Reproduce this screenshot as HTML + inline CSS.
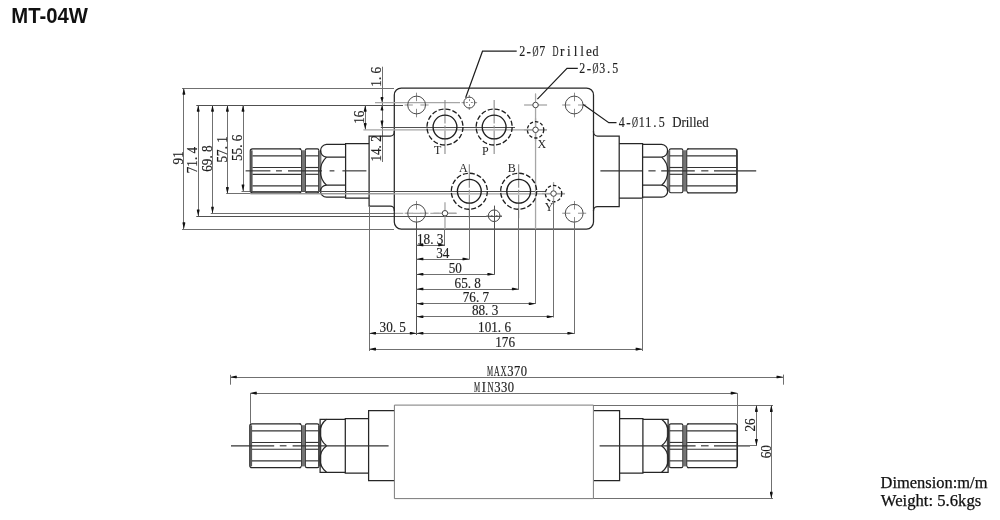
<!DOCTYPE html>
<html><head><meta charset="utf-8"><style>
html,body{margin:0;padding:0;background:#fff;width:1000px;height:520px;overflow:hidden}
svg{position:absolute;left:0;top:0;will-change:transform}
</style></head><body>
<svg width="1000" height="520" viewBox="0 0 1000 520">
<rect width="1000" height="520" fill="#fff"/>
<text x="11.3" y="22.7" font-family="Liberation Sans" font-weight="bold" font-size="21.2" fill="#111" textLength="76.6" lengthAdjust="spacingAndGlyphs">MT-04W</text>
<line x1="182" y1="88.5" x2="394" y2="88.5" stroke="#707070" stroke-width="1" fill="none"/>
<line x1="196.3" y1="105.5" x2="403" y2="105.5" stroke="#505050" stroke-width="1" fill="none"/>
<line x1="182" y1="229.5" x2="394" y2="229.5" stroke="#707070" stroke-width="1" fill="none"/>
<line x1="196.3" y1="216.5" x2="502" y2="216.5" stroke="#505050" stroke-width="1" fill="none"/>
<line x1="210.8" y1="213.5" x2="394.3" y2="213.5" stroke="#707070" stroke-width="1" fill="none"/>
<line x1="394.3" y1="213.4" x2="456.5" y2="213.4" stroke="#ababab" stroke-width="1.2" stroke-dasharray="9,3,3,3"/>
<line x1="226.2" y1="193.5" x2="250.3" y2="193.5" stroke="#707070" stroke-width="1" fill="none"/>
<line x1="250.3" y1="193.5" x2="394" y2="193.5" stroke="#707070" stroke-width="1" fill="none"/>
<line x1="241.5" y1="191.5" x2="250.3" y2="191.5" stroke="#707070" stroke-width="1" fill="none"/>
<line x1="250.3" y1="191.5" x2="394" y2="191.5" stroke="#707070" stroke-width="1" fill="none"/>
<line x1="183.5" y1="88" x2="183.5" y2="229.1" stroke="#707070" stroke-width="1" fill="none"/>
<path d="M183.9,88 L185.2,93.44 L185.2,94.8 L182.6,94.8 L182.6,93.44 Z" fill="#111"/>
<path d="M183.9,229.1 L182.6,223.66 L182.6,222.3 L185.2,222.3 L185.2,223.66 Z" fill="#111"/>
<line x1="198.5" y1="105" x2="198.5" y2="216.2" stroke="#707070" stroke-width="1" fill="none"/>
<path d="M198.2,105 L199.5,110.44 L199.5,111.8 L196.9,111.8 L196.9,110.44 Z" fill="#111"/>
<path d="M198.2,216.2 L196.9,210.76 L196.9,209.4 L199.5,209.4 L199.5,210.76 Z" fill="#111"/>
<line x1="212.5" y1="105" x2="212.5" y2="213.5" stroke="#707070" stroke-width="1" fill="none"/>
<path d="M212.5,105 L213.8,110.44 L213.8,111.8 L211.2,111.8 L211.2,110.44 Z" fill="#111"/>
<path d="M212.5,213.5 L211.2,208.06 L211.2,206.7 L213.8,206.7 L213.8,208.06 Z" fill="#111"/>
<line x1="227.5" y1="105" x2="227.5" y2="193.85" stroke="#707070" stroke-width="1" fill="none"/>
<path d="M227.4,105 L228.7,110.44 L228.7,111.8 L226.1,111.8 L226.1,110.44 Z" fill="#111"/>
<path d="M227.4,193.85 L226.1,188.41 L226.1,187.05 L228.7,187.05 L228.7,188.41 Z" fill="#111"/>
<line x1="243.5" y1="105" x2="243.5" y2="191.25" stroke="#707070" stroke-width="1" fill="none"/>
<path d="M243,105 L244.3,110.44 L244.3,111.8 L241.7,111.8 L241.7,110.44 Z" fill="#111"/>
<path d="M243,191.25 L241.7,185.81 L241.7,184.45 L244.3,184.45 L244.3,185.81 Z" fill="#111"/>
<line x1="382.5" y1="66.7" x2="382.5" y2="162" stroke="#707070" stroke-width="1" fill="none"/>
<path d="M382,102.6 L380.7,98.2 L380.7,97.1 L383.3,97.1 L383.3,98.2 Z" fill="#111"/>
<path d="M382,105 L383.3,109.4 L383.3,110.5 L380.7,110.5 L380.7,109.4 Z" fill="#111"/>
<path d="M382,127.3 L380.7,121.86 L380.7,120.5 L383.3,120.5 L383.3,121.86 Z" fill="#111"/>
<line x1="365.5" y1="105" x2="365.5" y2="129.8" stroke="#707070" stroke-width="1" fill="none"/>
<path d="M365.2,105 L366.5,110.44 L366.5,111.8 L363.9,111.8 L363.9,110.44 Z" fill="#111"/>
<path d="M365.2,129.8 L363.9,124.36 L363.9,123 L366.5,123 L366.5,124.36 Z" fill="#111"/>
<path d="M394.3,95 A7,7 0 0 1 401.3,88 L586.5,88 A7,7 0 0 1 593.5,95 L593.5,132.1 A4,4 0 0 0 597.5,136.1 L619.2,136.1 L619.2,206.5 L597.5,206.5 A4,4 0 0 0 593.5,210.5 L593.5,222 A7,7 0 0 1 586.5,229 L401.3,229 A7,7 0 0 1 394.3,222 L394.3,210 A4,4 0 0 0 390.3,206 L369.1,206 L369.1,136.1 L390.3,136.1 A4,4 0 0 0 394.3,132.1 Z" stroke="#262626" stroke-width="1.25" fill="none"/>
<line x1="394.3" y1="131" x2="394.3" y2="211" stroke="#262626" stroke-width="1.25"/>
<line x1="593.5" y1="131" x2="593.5" y2="211" stroke="#262626" stroke-width="1.25"/>
<g >
<path d="M300.8,148.85 L252.5,148.85 Q250.3,148.85 250.3,151.05 L250.3,190.55 Q250.3,192.75 252.5,192.75 L300.8,192.75" stroke="#262626" stroke-width="1.25" fill="none"/>
<rect x="250.3" y="150.35" width="2.3" height="41" fill="#5a5a5a"/>
<path d="M299.6,148.85 Q301.1,148.85 301.1,150.25 M299.6,192.75 Q301.1,192.75 301.1,191.35" stroke="#262626" stroke-width="1.2" fill="none"/>
<rect x="301" y="150.25" width="4.5" height="41.2" fill="#747474"/>
<line x1="301.5" y1="150.25" x2="301.5" y2="191.45" stroke="#3a3a3a" stroke-width="0.9"/>
<line x1="305.5" y1="150.25" x2="305.5" y2="191.45" stroke="#3a3a3a" stroke-width="0.9"/>
<path d="M305.4,150.25 Q305.4,148.85 306.8,148.85 L317.4,148.85 Q318.8,148.85 318.8,150.25 M305.4,191.35 Q305.4,192.75 306.8,192.75 L317.4,192.75 Q318.8,192.75 318.8,191.35" stroke="#262626" stroke-width="1.2" fill="none"/>
<line x1="252.5" y1="155.85" x2="301.1" y2="155.85" stroke="#333" stroke-width="1.15"/>
<line x1="305.4" y1="155.85" x2="318.8" y2="155.85" stroke="#333" stroke-width="1.15"/>
<line x1="252.5" y1="167.5" x2="301.1" y2="167.5" stroke="#333" stroke-width="1.15"/>
<line x1="305.4" y1="167.5" x2="318.8" y2="167.5" stroke="#333" stroke-width="1.15"/>
<line x1="252.5" y1="174.3" x2="301.1" y2="174.3" stroke="#333" stroke-width="1.15"/>
<line x1="305.4" y1="174.3" x2="318.8" y2="174.3" stroke="#333" stroke-width="1.15"/>
<line x1="252.5" y1="185.9" x2="301.1" y2="185.9" stroke="#333" stroke-width="1.15"/>
<line x1="305.4" y1="185.9" x2="318.8" y2="185.9" stroke="#333" stroke-width="1.15"/>
<rect x="318.8" y="150.35" width="2.6" height="41" fill="#747474"/>
<line x1="318.5" y1="150.25" x2="318.5" y2="191.35" stroke="#3a3a3a" stroke-width="0.9"/>
<path d="M369.1,143.65 L345.6,143.65 L345.6,198.05 L369.1,198.05" stroke="#262626" stroke-width="1.25" fill="none"/>
<path d="M345.6,144.4 L326.5,144.4 A6.39,6.39 0 0 0 326.5,157.15 L345.6,157.15" stroke="#262626" stroke-width="1.25" fill="none"/>
<path d="M326.5,157.15 A19.12,19.12 0 0 0 326.5,185.15 L345.6,185.15" stroke="#262626" stroke-width="1.25" fill="none"/>
<path d="M326.5,185.15 A6,6 0 0 0 326.5,197.15 L345.6,197.15" stroke="#262626" stroke-width="1.25" fill="none"/>
</g>
<g transform="translate(988.2,0) scale(-1,1)">
<path d="M300.8,148.85 L253.29999999999998,148.85 Q251.1,148.85 251.1,151.05 L251.1,190.55 Q251.1,192.75 253.29999999999998,192.75 L300.8,192.75" stroke="#262626" stroke-width="1.25" fill="none"/>
<line x1="251.4" y1="150.35" x2="251.4" y2="191.35" stroke="#222" stroke-width="1.1"/>
<path d="M299.6,148.85 Q301.1,148.85 301.1,150.25 M299.6,192.75 Q301.1,192.75 301.1,191.35" stroke="#262626" stroke-width="1.2" fill="none"/>
<rect x="301" y="150.25" width="4.5" height="41.2" fill="#747474"/>
<line x1="301.5" y1="150.25" x2="301.5" y2="191.45" stroke="#3a3a3a" stroke-width="0.9"/>
<line x1="305.5" y1="150.25" x2="305.5" y2="191.45" stroke="#3a3a3a" stroke-width="0.9"/>
<path d="M305.4,150.25 Q305.4,148.85 306.8,148.85 L317.4,148.85 Q318.8,148.85 318.8,150.25 M305.4,191.35 Q305.4,192.75 306.8,192.75 L317.4,192.75 Q318.8,192.75 318.8,191.35" stroke="#262626" stroke-width="1.2" fill="none"/>
<line x1="251.7" y1="155.85" x2="301.1" y2="155.85" stroke="#333" stroke-width="1.15"/>
<line x1="305.4" y1="155.85" x2="318.8" y2="155.85" stroke="#333" stroke-width="1.15"/>
<line x1="251.7" y1="167.5" x2="301.1" y2="167.5" stroke="#333" stroke-width="1.15"/>
<line x1="305.4" y1="167.5" x2="318.8" y2="167.5" stroke="#333" stroke-width="1.15"/>
<line x1="251.7" y1="174.3" x2="301.1" y2="174.3" stroke="#333" stroke-width="1.15"/>
<line x1="305.4" y1="174.3" x2="318.8" y2="174.3" stroke="#333" stroke-width="1.15"/>
<line x1="251.7" y1="185.9" x2="301.1" y2="185.9" stroke="#333" stroke-width="1.15"/>
<line x1="305.4" y1="185.9" x2="318.8" y2="185.9" stroke="#333" stroke-width="1.15"/>
<rect x="318.8" y="150.35" width="2.6" height="41" fill="#747474"/>
<line x1="318.5" y1="150.25" x2="318.5" y2="191.35" stroke="#3a3a3a" stroke-width="0.9"/>
<path d="M369.1,143.65 L345.6,143.65 L345.6,198.05 L369.1,198.05" stroke="#262626" stroke-width="1.25" fill="none"/>
<path d="M345.6,144.4 L326.5,144.4 A6.39,6.39 0 0 0 326.5,157.15 L345.6,157.15" stroke="#262626" stroke-width="1.25" fill="none"/>
<path d="M326.5,157.15 A19.12,19.12 0 0 0 326.5,185.15 L345.6,185.15" stroke="#262626" stroke-width="1.25" fill="none"/>
<path d="M326.5,185.15 A6,6 0 0 0 326.5,197.15 L345.6,197.15" stroke="#262626" stroke-width="1.25" fill="none"/>
</g>
<g >
<path d="M300.8,423.8 L252.0,423.8 Q249.8,423.8 249.8,426 L249.8,465.5 Q249.8,467.7 252.0,467.7 L300.8,467.7" stroke="#262626" stroke-width="1.25" fill="none"/>
<rect x="249.8" y="425.3" width="2.3" height="41" fill="#5a5a5a"/>
<path d="M299.6,423.8 Q301.1,423.8 301.1,425.2 M299.6,467.7 Q301.1,467.7 301.1,466.3" stroke="#262626" stroke-width="1.2" fill="none"/>
<rect x="301" y="425.2" width="4.5" height="41.2" fill="#747474"/>
<line x1="301.5" y1="425.2" x2="301.5" y2="466.4" stroke="#3a3a3a" stroke-width="0.9"/>
<line x1="305.5" y1="425.2" x2="305.5" y2="466.4" stroke="#3a3a3a" stroke-width="0.9"/>
<path d="M305.4,425.2 Q305.4,423.8 306.8,423.8 L317.4,423.8 Q318.8,423.8 318.8,425.2 M305.4,466.3 Q305.4,467.7 306.8,467.7 L317.4,467.7 Q318.8,467.7 318.8,466.3" stroke="#262626" stroke-width="1.2" fill="none"/>
<line x1="252" y1="430.8" x2="301.1" y2="430.8" stroke="#333" stroke-width="1.15"/>
<line x1="305.4" y1="430.8" x2="318.8" y2="430.8" stroke="#333" stroke-width="1.15"/>
<line x1="252" y1="442.45" x2="301.1" y2="442.45" stroke="#333" stroke-width="1.15"/>
<line x1="305.4" y1="442.45" x2="318.8" y2="442.45" stroke="#333" stroke-width="1.15"/>
<line x1="252" y1="449.25" x2="301.1" y2="449.25" stroke="#333" stroke-width="1.15"/>
<line x1="305.4" y1="449.25" x2="318.8" y2="449.25" stroke="#333" stroke-width="1.15"/>
<line x1="252" y1="460.85" x2="301.1" y2="460.85" stroke="#333" stroke-width="1.15"/>
<line x1="305.4" y1="460.85" x2="318.8" y2="460.85" stroke="#333" stroke-width="1.15"/>
<rect x="318.8" y="425.3" width="2.6" height="41" fill="#747474"/>
<line x1="318.5" y1="425.2" x2="318.5" y2="466.3" stroke="#3a3a3a" stroke-width="0.9"/>
<path d="M394.4,410.7 L368.6,410.7 L368.6,480.7 L394.4,480.7" stroke="#262626" stroke-width="1.25" fill="none"/>
<path d="M368.6,418.5 L345.3,418.5 L345.3,473.1 L368.6,473.1" stroke="#262626" stroke-width="1.25" fill="none"/>
<path d="M345.3,419.3 L320.1,419.3 L320.1,472.3 L345.3,472.3" stroke="#262626" stroke-width="1.25" fill="none"/>
<path d="M326.6,419.3 A16.6,16.6 0 0 0 326.6,445.8 " stroke="#262626" stroke-width="1.25" fill="none"/>
<path d="M326.6,445.8 A16.6,16.6 0 0 0 326.6,472.3" stroke="#262626" stroke-width="1.25" fill="none"/>
</g>
<g transform="translate(988.2,0) scale(-1,1)">
<path d="M300.8,423.8 L253.0,423.8 Q250.8,423.8 250.8,426 L250.8,465.5 Q250.8,467.7 253.0,467.7 L300.8,467.7" stroke="#262626" stroke-width="1.25" fill="none"/>
<line x1="251.1" y1="425.3" x2="251.1" y2="466.3" stroke="#222" stroke-width="1.1"/>
<path d="M299.6,423.8 Q301.1,423.8 301.1,425.2 M299.6,467.7 Q301.1,467.7 301.1,466.3" stroke="#262626" stroke-width="1.2" fill="none"/>
<rect x="301" y="425.2" width="4.5" height="41.2" fill="#747474"/>
<line x1="301.5" y1="425.2" x2="301.5" y2="466.4" stroke="#3a3a3a" stroke-width="0.9"/>
<line x1="305.5" y1="425.2" x2="305.5" y2="466.4" stroke="#3a3a3a" stroke-width="0.9"/>
<path d="M305.4,425.2 Q305.4,423.8 306.8,423.8 L317.4,423.8 Q318.8,423.8 318.8,425.2 M305.4,466.3 Q305.4,467.7 306.8,467.7 L317.4,467.7 Q318.8,467.7 318.8,466.3" stroke="#262626" stroke-width="1.2" fill="none"/>
<line x1="251.4" y1="430.8" x2="301.1" y2="430.8" stroke="#333" stroke-width="1.15"/>
<line x1="305.4" y1="430.8" x2="318.8" y2="430.8" stroke="#333" stroke-width="1.15"/>
<line x1="251.4" y1="442.45" x2="301.1" y2="442.45" stroke="#333" stroke-width="1.15"/>
<line x1="305.4" y1="442.45" x2="318.8" y2="442.45" stroke="#333" stroke-width="1.15"/>
<line x1="251.4" y1="449.25" x2="301.1" y2="449.25" stroke="#333" stroke-width="1.15"/>
<line x1="305.4" y1="449.25" x2="318.8" y2="449.25" stroke="#333" stroke-width="1.15"/>
<line x1="251.4" y1="460.85" x2="301.1" y2="460.85" stroke="#333" stroke-width="1.15"/>
<line x1="305.4" y1="460.85" x2="318.8" y2="460.85" stroke="#333" stroke-width="1.15"/>
<rect x="318.8" y="425.3" width="2.6" height="41" fill="#747474"/>
<line x1="318.5" y1="425.2" x2="318.5" y2="466.3" stroke="#3a3a3a" stroke-width="0.9"/>
<path d="M394.4,410.7 L368.6,410.7 L368.6,480.7 L394.4,480.7" stroke="#262626" stroke-width="1.25" fill="none"/>
<path d="M368.6,418.5 L345.3,418.5 L345.3,473.1 L368.6,473.1" stroke="#262626" stroke-width="1.25" fill="none"/>
<path d="M345.3,419.3 L320.1,419.3 L320.1,472.3 L345.3,472.3" stroke="#262626" stroke-width="1.25" fill="none"/>
<path d="M326.6,419.3 A16.6,16.6 0 0 0 326.6,445.8 " stroke="#262626" stroke-width="1.25" fill="none"/>
<path d="M326.6,445.8 A16.6,16.6 0 0 0 326.6,472.3" stroke="#262626" stroke-width="1.25" fill="none"/>
</g>
<line x1="245.6" y1="170.85" x2="270.4" y2="170.85" stroke="#333" stroke-width="1.15" fill="none"/>
<line x1="276" y1="170.85" x2="281.9" y2="170.85" stroke="#333" stroke-width="1.15" fill="none"/>
<line x1="288" y1="170.85" x2="322" y2="170.85" stroke="#333" stroke-width="1.15" fill="none"/>
<line x1="329.6" y1="170.85" x2="334.4" y2="170.85" stroke="#333" stroke-width="1.15" fill="none"/>
<line x1="342.4" y1="170.85" x2="366.4" y2="170.85" stroke="#333" stroke-width="1.15" fill="none"/>
<line x1="600.4" y1="170.85" x2="642" y2="170.85" stroke="#333" stroke-width="1.15" fill="none"/>
<line x1="648.4" y1="170.85" x2="655.6" y2="170.85" stroke="#333" stroke-width="1.15" fill="none"/>
<line x1="661.2" y1="170.85" x2="694.8" y2="170.85" stroke="#333" stroke-width="1.15" fill="none"/>
<line x1="701.2" y1="170.85" x2="708.4" y2="170.85" stroke="#333" stroke-width="1.15" fill="none"/>
<line x1="714" y1="170.85" x2="756.2" y2="170.85" stroke="#333" stroke-width="1.15" fill="none"/>
<line x1="231" y1="445.8" x2="274.2" y2="445.8" stroke="#333" stroke-width="1.15" fill="none"/>
<line x1="279.8" y1="445.8" x2="286.5" y2="445.8" stroke="#333" stroke-width="1.15" fill="none"/>
<line x1="292.6" y1="445.8" x2="388.6" y2="445.8" stroke="#333" stroke-width="1.15" fill="none"/>
<line x1="599.6" y1="445.8" x2="695.6" y2="445.8" stroke="#333" stroke-width="1.15" fill="none"/>
<line x1="701" y1="445.8" x2="708.6" y2="445.8" stroke="#333" stroke-width="1.15" fill="none"/>
<line x1="714" y1="445.8" x2="750" y2="445.8" stroke="#333" stroke-width="1.15" fill="none"/>
<line x1="375" y1="102.6" x2="460" y2="102.6" stroke="#a6a6a6" stroke-width="1.3" fill="none"/>
<line x1="363.4" y1="129.8" x2="547" y2="129.8" stroke="#a6a6a6" stroke-width="1.3" fill="none"/>
<line x1="380.8" y1="127.5" x2="515" y2="127.5" stroke="#505050" stroke-width="1" fill="none"/>
<line x1="250.3" y1="191.5" x2="545" y2="191.5" stroke="#505050" stroke-width="1" fill="none"/>
<line x1="250.3" y1="193.85" x2="565" y2="193.85" stroke="#a6a6a6" stroke-width="1.3" fill="none"/>
<line x1="412.8" y1="105" x2="404.6" y2="105" stroke="#a4a4a4" stroke-width="1.2"/>
<line x1="416.5" y1="101.2" x2="416.5" y2="92.7" stroke="#8c8c8c" stroke-width="1"/>
<line x1="420.4" y1="105" x2="428.6" y2="105" stroke="#a4a4a4" stroke-width="1.2"/>
<line x1="416.5" y1="108.8" x2="416.5" y2="117.3" stroke="#8c8c8c" stroke-width="1"/>
<circle cx="416.6" cy="105" r="8.9" stroke="#4a4a4a" stroke-width="1" fill="none"/>
<line x1="570.38" y1="105" x2="562.18" y2="105" stroke="#a4a4a4" stroke-width="1.2"/>
<line x1="574.5" y1="101.2" x2="574.5" y2="92.7" stroke="#8c8c8c" stroke-width="1"/>
<line x1="577.98" y1="105" x2="586.18" y2="105" stroke="#a4a4a4" stroke-width="1.2"/>
<line x1="574.5" y1="108.8" x2="574.5" y2="117.3" stroke="#8c8c8c" stroke-width="1"/>
<circle cx="574.18" cy="105" r="8.9" stroke="#4a4a4a" stroke-width="1" fill="none"/>
<line x1="412.8" y1="213.26" x2="404.6" y2="213.26" stroke="#a4a4a4" stroke-width="1.2"/>
<line x1="416.5" y1="209.46" x2="416.5" y2="200.96" stroke="#8c8c8c" stroke-width="1"/>
<line x1="420.4" y1="213.26" x2="428.6" y2="213.26" stroke="#a4a4a4" stroke-width="1.2"/>
<line x1="416.5" y1="217.06" x2="416.5" y2="225.56" stroke="#8c8c8c" stroke-width="1"/>
<circle cx="416.6" cy="213.26" r="8.9" stroke="#4a4a4a" stroke-width="1" fill="none"/>
<line x1="570.38" y1="213.26" x2="562.18" y2="213.26" stroke="#a4a4a4" stroke-width="1.2"/>
<line x1="574.5" y1="209.46" x2="574.5" y2="200.96" stroke="#8c8c8c" stroke-width="1"/>
<line x1="577.98" y1="213.26" x2="586.18" y2="213.26" stroke="#a4a4a4" stroke-width="1.2"/>
<line x1="574.5" y1="217.06" x2="574.5" y2="225.56" stroke="#8c8c8c" stroke-width="1"/>
<circle cx="574.18" cy="213.26" r="8.9" stroke="#4a4a4a" stroke-width="1" fill="none"/>
<line x1="467.83" y1="102.5" x2="465.83" y2="102.5" stroke="#8a8a8a" stroke-width="1"/>
<line x1="464.83" y1="102.6" x2="461.53" y2="102.6" stroke="#a0a0a0" stroke-width="1.2"/>
<line x1="469.5" y1="101.1" x2="469.5" y2="99.1" stroke="#8a8a8a" stroke-width="1"/>
<line x1="469.33" y1="98.1" x2="469.33" y2="95.1" stroke="#a0a0a0" stroke-width="1.2"/>
<line x1="470.83" y1="102.5" x2="472.83" y2="102.5" stroke="#8a8a8a" stroke-width="1"/>
<line x1="473.83" y1="102.6" x2="477.13" y2="102.6" stroke="#a0a0a0" stroke-width="1.2"/>
<line x1="469.5" y1="104.1" x2="469.5" y2="106.1" stroke="#8a8a8a" stroke-width="1"/>
<line x1="469.33" y1="107.1" x2="469.33" y2="110.1" stroke="#a0a0a0" stroke-width="1.2"/>
<circle cx="469.33" cy="102.6" r="5.5" stroke="#444" stroke-width="1" fill="none"/>
<line x1="492.65" y1="215.5" x2="490.65" y2="215.5" stroke="#8a8a8a" stroke-width="1"/>
<line x1="489.65" y1="215.74" x2="486.35" y2="215.74" stroke="#a0a0a0" stroke-width="1.2"/>
<line x1="495.65" y1="215.5" x2="497.65" y2="215.5" stroke="#8a8a8a" stroke-width="1"/>
<line x1="498.65" y1="215.74" x2="501.95" y2="215.74" stroke="#a0a0a0" stroke-width="1.2"/>
<circle cx="494.15" cy="215.74" r="5.8" stroke="#444" stroke-width="1" fill="none"/>
<line x1="524.06" y1="105" x2="547.06" y2="105" stroke="#a6a6a6" stroke-width="1.3" fill="none"/>
<line x1="535.5" y1="93.7" x2="535.5" y2="304" stroke="#707070" stroke-width="1" fill="none"/>
<line x1="535.56" y1="93.7" x2="535.56" y2="229" stroke="#a6a6a6" stroke-width="1.3" fill="none"/>
<line x1="433.48" y1="213.26" x2="456.48" y2="213.26" stroke="#a6a6a6" stroke-width="1.3" fill="none"/>
<line x1="444.98" y1="202.3" x2="444.98" y2="229" stroke="#a6a6a6" stroke-width="1.3" fill="none"/>
<line x1="444.5" y1="229" x2="444.5" y2="246" stroke="#707070" stroke-width="1" fill="none"/>
<circle cx="535.56" cy="105" r="2.75" stroke="#444" stroke-width="1" fill="#fff"/>
<circle cx="444.98" cy="213.26" r="2.75" stroke="#444" stroke-width="1" fill="#fff"/>
<line x1="444.98" y1="100.02" x2="444.98" y2="123.52" stroke="#8a8a8a" stroke-width="1.1"/>
<line x1="444.98" y1="130.52" x2="444.98" y2="154.02" stroke="#8a8a8a" stroke-width="1.1"/>
<line x1="444.98" y1="125.52" x2="444.98" y2="128.52" stroke="#8a8a8a" stroke-width="1.1"/>
<circle cx="444.98" cy="127.02" r="18" stroke="#1e1e1e" stroke-width="1.3" fill="none" stroke-dasharray="5,2.07"/>
<circle cx="444.98" cy="127.02" r="11.9" stroke="#1e1e1e" stroke-width="1.35" fill="none"/>
<line x1="494.15" y1="100.02" x2="494.15" y2="123.52" stroke="#8a8a8a" stroke-width="1.1"/>
<line x1="494.15" y1="130.52" x2="494.15" y2="154.02" stroke="#8a8a8a" stroke-width="1.1"/>
<line x1="494.15" y1="125.52" x2="494.15" y2="128.52" stroke="#8a8a8a" stroke-width="1.1"/>
<circle cx="494.15" cy="127.02" r="18" stroke="#1e1e1e" stroke-width="1.3" fill="none" stroke-dasharray="5,2.07"/>
<circle cx="494.15" cy="127.02" r="11.9" stroke="#1e1e1e" stroke-width="1.35" fill="none"/>
<line x1="469.33" y1="164.24" x2="469.33" y2="187.74" stroke="#8a8a8a" stroke-width="1.1"/>
<line x1="469.33" y1="194.74" x2="469.33" y2="218.24" stroke="#8a8a8a" stroke-width="1.1"/>
<line x1="469.33" y1="189.74" x2="469.33" y2="192.74" stroke="#8a8a8a" stroke-width="1.1"/>
<circle cx="469.33" cy="191.24" r="18" stroke="#1e1e1e" stroke-width="1.3" fill="none" stroke-dasharray="5,2.07"/>
<circle cx="469.33" cy="191.24" r="11.9" stroke="#1e1e1e" stroke-width="1.35" fill="none"/>
<line x1="518.66" y1="164.24" x2="518.66" y2="187.74" stroke="#8a8a8a" stroke-width="1.1"/>
<line x1="518.66" y1="194.74" x2="518.66" y2="218.24" stroke="#8a8a8a" stroke-width="1.1"/>
<line x1="518.66" y1="189.74" x2="518.66" y2="192.74" stroke="#8a8a8a" stroke-width="1.1"/>
<circle cx="518.66" cy="191.24" r="18" stroke="#1e1e1e" stroke-width="1.3" fill="none" stroke-dasharray="5,2.07"/>
<circle cx="518.66" cy="191.24" r="11.9" stroke="#1e1e1e" stroke-width="1.35" fill="none"/>
<line x1="524.06" y1="129.82" x2="547.06" y2="129.82" stroke="#a6a6a6" stroke-width="1.3" fill="none"/>
<line x1="535.56" y1="118.32" x2="535.56" y2="141.32" stroke="#a6a6a6" stroke-width="1.3" fill="none"/>
<circle cx="535.56" cy="129.82" r="8.2" stroke="#1e1e1e" stroke-width="1.3" fill="none" stroke-dasharray="3.4,2"/>
<circle cx="535.56" cy="129.82" r="2.75" stroke="#444" stroke-width="1" fill="#fff"/>
<line x1="542.05" y1="193.56" x2="565.05" y2="193.56" stroke="#a6a6a6" stroke-width="1.3" fill="none"/>
<line x1="553.55" y1="182.06" x2="553.55" y2="205.06" stroke="#a6a6a6" stroke-width="1.3" fill="none"/>
<circle cx="553.55" cy="193.56" r="8.2" stroke="#1e1e1e" stroke-width="1.3" fill="none" stroke-dasharray="3.4,2"/>
<circle cx="553.55" cy="193.56" r="2.75" stroke="#444" stroke-width="1" fill="#fff"/>
<line x1="416.5" y1="222" x2="416.5" y2="335" stroke="#505050" stroke-width="1" fill="none"/>
<line x1="469.5" y1="209" x2="469.5" y2="259.5" stroke="#707070" stroke-width="1" fill="none"/>
<line x1="494.5" y1="205.6" x2="494.5" y2="274.8" stroke="#505050" stroke-width="1" fill="none"/>
<line x1="518.5" y1="209" x2="518.5" y2="289.8" stroke="#707070" stroke-width="1" fill="none"/>
<line x1="553.5" y1="201" x2="553.5" y2="317.5" stroke="#707070" stroke-width="1" fill="none"/>
<line x1="574.5" y1="222" x2="574.5" y2="334" stroke="#707070" stroke-width="1" fill="none"/>
<line x1="369.5" y1="206" x2="369.5" y2="351" stroke="#707070" stroke-width="1" fill="none"/>
<line x1="642.5" y1="198" x2="642.5" y2="351" stroke="#707070" stroke-width="1" fill="none"/>
<line x1="416.6" y1="245.5" x2="444.98" y2="245.5" stroke="#707070" stroke-width="1" fill="none"/>
<path d="M416.6,245 L422.04,243.7 L423.4,243.7 L423.4,246.3 L422.04,246.3 Z" fill="#111"/>
<path d="M444.98,245 L439.54,246.3 L438.18,246.3 L438.18,243.7 L439.54,243.7 Z" fill="#111"/>
<line x1="416.6" y1="259.5" x2="469.33" y2="259.5" stroke="#707070" stroke-width="1" fill="none"/>
<path d="M416.6,259 L422.04,257.7 L423.4,257.7 L423.4,260.3 L422.04,260.3 Z" fill="#111"/>
<path d="M469.33,259 L463.89,260.3 L462.53,260.3 L462.53,257.7 L463.89,257.7 Z" fill="#111"/>
<line x1="416.6" y1="274.5" x2="494.15" y2="274.5" stroke="#707070" stroke-width="1" fill="none"/>
<path d="M416.6,274.3 L422.04,273 L423.4,273 L423.4,275.6 L422.04,275.6 Z" fill="#111"/>
<path d="M494.15,274.3 L488.71,275.6 L487.35,275.6 L487.35,273 L488.71,273 Z" fill="#111"/>
<line x1="416.6" y1="289.5" x2="518.66" y2="289.5" stroke="#707070" stroke-width="1" fill="none"/>
<path d="M416.6,289 L422.04,287.7 L423.4,287.7 L423.4,290.3 L422.04,290.3 Z" fill="#111"/>
<path d="M518.66,289 L513.22,290.3 L511.86,290.3 L511.86,287.7 L513.22,287.7 Z" fill="#111"/>
<line x1="416.6" y1="303.5" x2="535.56" y2="303.5" stroke="#707070" stroke-width="1" fill="none"/>
<path d="M416.6,303.7 L422.04,302.4 L423.4,302.4 L423.4,305 L422.04,305 Z" fill="#111"/>
<path d="M535.56,303.7 L530.12,305 L528.76,305 L528.76,302.4 L530.12,302.4 Z" fill="#111"/>
<line x1="416.6" y1="316.5" x2="553.55" y2="316.5" stroke="#707070" stroke-width="1" fill="none"/>
<path d="M416.6,316.8 L422.04,315.5 L423.4,315.5 L423.4,318.1 L422.04,318.1 Z" fill="#111"/>
<path d="M553.55,316.8 L548.11,318.1 L546.75,318.1 L546.75,315.5 L548.11,315.5 Z" fill="#111"/>
<line x1="416.6" y1="333.5" x2="574.18" y2="333.5" stroke="#707070" stroke-width="1" fill="none"/>
<path d="M416.6,333.3 L422.04,332 L423.4,332 L423.4,334.6 L422.04,334.6 Z" fill="#111"/>
<path d="M574.18,333.3 L568.74,334.6 L567.38,334.6 L567.38,332 L568.74,332 Z" fill="#111"/>
<line x1="369.2" y1="333.5" x2="416.6" y2="333.5" stroke="#707070" stroke-width="1" fill="none"/>
<path d="M369.2,333.3 L374.64,332 L376,332 L376,334.6 L374.64,334.6 Z" fill="#111"/>
<path d="M416.6,333.3 L411.16,334.6 L409.8,334.6 L409.8,332 L411.16,332 Z" fill="#111"/>
<line x1="369.2" y1="349.5" x2="642.4" y2="349.5" stroke="#707070" stroke-width="1" fill="none"/>
<path d="M369.2,349.1 L374.64,347.8 L376,347.8 L376,350.4 L374.64,350.4 Z" fill="#111"/>
<path d="M642.4,349.1 L636.96,350.4 L635.6,350.4 L635.6,347.8 L636.96,347.8 Z" fill="#111"/>
<text transform="translate(417,243.7) scale(1,1.08)" font-family="Liberation Serif" font-size="13.2" fill="#1e1e1e" stroke="#1e1e1e" stroke-width="0.15">18.<tspan dx="3.3">3</tspan></text>
<text transform="translate(436.2,257.95) scale(1,1.08)" font-family="Liberation Serif" font-size="13.2" fill="#1e1e1e" stroke="#1e1e1e" stroke-width="0.15">34</text>
<text transform="translate(448.75,272.6) scale(1,1.08)" font-family="Liberation Serif" font-size="13.2" fill="#1e1e1e" stroke="#1e1e1e" stroke-width="0.15">50</text>
<text transform="translate(454.6,288.4) scale(1,1.08)" font-family="Liberation Serif" font-size="13.2" fill="#1e1e1e" stroke="#1e1e1e" stroke-width="0.15">65.<tspan dx="3.3">8</tspan></text>
<text transform="translate(462.7,302) scale(1,1.08)" font-family="Liberation Serif" font-size="13.2" fill="#1e1e1e" stroke="#1e1e1e" stroke-width="0.15">76.<tspan dx="3.3">7</tspan></text>
<text transform="translate(471.9,315.2) scale(1,1.08)" font-family="Liberation Serif" font-size="13.2" fill="#1e1e1e" stroke="#1e1e1e" stroke-width="0.15">88.<tspan dx="3.3">3</tspan></text>
<text transform="translate(478.1,332.2) scale(1,1.08)" font-family="Liberation Serif" font-size="13.2" fill="#1e1e1e" stroke="#1e1e1e" stroke-width="0.15">101.<tspan dx="3.3">6</tspan></text>
<text transform="translate(379.6,331.85) scale(1,1.08)" font-family="Liberation Serif" font-size="13.2" fill="#1e1e1e" stroke="#1e1e1e" stroke-width="0.15">30.<tspan dx="3.3">5</tspan></text>
<text transform="translate(495.2,347.2) scale(1,1.08)" font-family="Liberation Serif" font-size="13.2" fill="#1e1e1e" stroke="#1e1e1e" stroke-width="0.15">176</text>
<text transform="translate(182.5,164.4) rotate(-90) scale(1,1.08)" font-family="Liberation Serif" font-size="13.2" fill="#1e1e1e" stroke="#1e1e1e" stroke-width="0.15">91</text>
<text transform="translate(197.2,173.3) rotate(-90) scale(1,1.08)" font-family="Liberation Serif" font-size="13.2" fill="#1e1e1e" stroke="#1e1e1e" stroke-width="0.15">71.<tspan dx="3.3">4</tspan></text>
<text transform="translate(211.5,171.8) rotate(-90) scale(1,1.08)" font-family="Liberation Serif" font-size="13.2" fill="#1e1e1e" stroke="#1e1e1e" stroke-width="0.15">69.<tspan dx="3.3">8</tspan></text>
<text transform="translate(226.7,162.5) rotate(-90) scale(1,1.08)" font-family="Liberation Serif" font-size="13.2" fill="#1e1e1e" stroke="#1e1e1e" stroke-width="0.15">57.<tspan dx="3.3">1</tspan></text>
<text transform="translate(241.6,161) rotate(-90) scale(1,1.08)" font-family="Liberation Serif" font-size="13.2" fill="#1e1e1e" stroke="#1e1e1e" stroke-width="0.15">55.<tspan dx="3.3">6</tspan></text>
<text transform="translate(380.6,86.7) rotate(-90) scale(1,1.08)" font-family="Liberation Serif" font-size="13.2" fill="#1e1e1e" stroke="#1e1e1e" stroke-width="0.15">1.<tspan dx="3.3">6</tspan></text>
<text transform="translate(363.6,123.8) rotate(-90) scale(1,1.08)" font-family="Liberation Serif" font-size="13.2" fill="#1e1e1e" stroke="#1e1e1e" stroke-width="0.15">16</text>
<text transform="translate(381.4,161.6) rotate(-90) scale(1,1.08)" font-family="Liberation Serif" font-size="13.2" fill="#1e1e1e" stroke="#1e1e1e" stroke-width="0.15">14.<tspan dx="3.3">2</tspan></text>
<text transform="translate(755.1,431.6) rotate(-90) scale(1,1.08)" font-family="Liberation Serif" font-size="13.2" fill="#1e1e1e" stroke="#1e1e1e" stroke-width="0.15">26</text>
<text transform="translate(770.8,458.3) rotate(-90) scale(1,1.08)" font-family="Liberation Serif" font-size="13.2" fill="#1e1e1e" stroke="#1e1e1e" stroke-width="0.15">60</text>
<text x="433.9" y="154.4" font-family="Liberation Serif" font-size="12" fill="#262626">T</text>
<text x="481.9" y="154.5" font-family="Liberation Serif" font-size="12" fill="#262626">P</text>
<text x="537.5" y="147.5" font-family="Liberation Serif" font-size="12" fill="#262626">X</text>
<text x="458.9" y="171.7" font-family="Liberation Serif" font-size="12" fill="#262626">A</text>
<text x="507.8" y="171.6" font-family="Liberation Serif" font-size="12" fill="#262626">B</text>
<text x="544.8" y="211.4" font-family="Liberation Serif" font-size="12" fill="#262626">Y</text>
<path d="M465.6,97.8 L482.5,51.2 L516.7,51.2" stroke="#1e1e1e" stroke-width="1.2" fill="none"/>
<path d="M537.4,99.2 L567,68.3 L577.8,68.3" stroke="#1e1e1e" stroke-width="1.2" fill="none"/>
<path d="M583.2,104.6 L608.8,122.7 L616.5,122.7" stroke="#1e1e1e" stroke-width="1.2" fill="none"/>
<text transform="translate(522.14,55.8) scale(0.910,1.08)" text-anchor="middle" font-family="Liberation Serif" font-size="13.2" fill="#1e1e1e" stroke="#1e1e1e" stroke-width="0.15">2</text>
<text transform="translate(535.49,55.8) scale(0.630,1.08)" text-anchor="middle" font-family="Liberation Serif" font-size="13.2" fill="#1e1e1e" stroke="#1e1e1e" stroke-width="0.15">Ø</text>
<text transform="translate(542.16,55.8) scale(0.910,1.08)" text-anchor="middle" font-family="Liberation Serif" font-size="13.2" fill="#1e1e1e" stroke="#1e1e1e" stroke-width="0.15">7</text>
<text transform="translate(555.51,55.8) scale(0.630,1.08)" text-anchor="middle" font-family="Liberation Serif" font-size="13.2" fill="#1e1e1e" stroke="#1e1e1e" stroke-width="0.15">D</text>
<text transform="translate(595.56,55.8) scale(0.910,1.08)" text-anchor="middle" font-family="Liberation Serif" font-size="13.2" fill="#1e1e1e" stroke="#1e1e1e" stroke-width="0.15">d</text>
<text transform="translate(0,55.8) scale(1,1.08)" x="528.81 562.19 568.86 575.54 582.21 588.89" y="0" text-anchor="middle" font-family="Liberation Serif" font-size="13.2" fill="#1e1e1e" stroke="#1e1e1e" stroke-width="0.15">-rille</text>
<text transform="translate(582.3,72.9) scale(0.900,1.08)" text-anchor="middle" font-family="Liberation Serif" font-size="13.2" fill="#1e1e1e" stroke="#1e1e1e" stroke-width="0.15">2</text>
<text transform="translate(595.5,72.9) scale(0.623,1.08)" text-anchor="middle" font-family="Liberation Serif" font-size="13.2" fill="#1e1e1e" stroke="#1e1e1e" stroke-width="0.15">Ø</text>
<text transform="translate(602.1,72.9) scale(0.900,1.08)" text-anchor="middle" font-family="Liberation Serif" font-size="13.2" fill="#1e1e1e" stroke="#1e1e1e" stroke-width="0.15">3</text>
<text transform="translate(615.3,72.9) scale(0.900,1.08)" text-anchor="middle" font-family="Liberation Serif" font-size="13.2" fill="#1e1e1e" stroke="#1e1e1e" stroke-width="0.15">5</text>
<text transform="translate(0,72.9) scale(1,1.08)" x="588.9 608.7" y="0" text-anchor="middle" font-family="Liberation Serif" font-size="13.2" fill="#1e1e1e" stroke="#1e1e1e" stroke-width="0.15">-.</text>
<text transform="translate(621.73,126.9) scale(0.908,1.08)" text-anchor="middle" font-family="Liberation Serif" font-size="13.2" fill="#1e1e1e" stroke="#1e1e1e" stroke-width="0.15">4</text>
<text transform="translate(635.04,126.9) scale(0.629,1.08)" text-anchor="middle" font-family="Liberation Serif" font-size="13.2" fill="#1e1e1e" stroke="#1e1e1e" stroke-width="0.15">Ø</text>
<text transform="translate(641.7,126.9) scale(0.908,1.08)" text-anchor="middle" font-family="Liberation Serif" font-size="13.2" fill="#1e1e1e" stroke="#1e1e1e" stroke-width="0.15">1</text>
<text transform="translate(648.36,126.9) scale(0.908,1.08)" text-anchor="middle" font-family="Liberation Serif" font-size="13.2" fill="#1e1e1e" stroke="#1e1e1e" stroke-width="0.15">1</text>
<text transform="translate(661.67,126.9) scale(0.908,1.08)" text-anchor="middle" font-family="Liberation Serif" font-size="13.2" fill="#1e1e1e" stroke="#1e1e1e" stroke-width="0.15">5</text>
<text transform="translate(0,126.9) scale(1,1.08)" x="628.39 655.01" y="0" text-anchor="middle" font-family="Liberation Serif" font-size="13.2" fill="#1e1e1e" stroke="#1e1e1e" stroke-width="0.15">-.</text>
<text x="672.2" y="126.9" transform="translate(0,-10.16) scale(1,1.08)" font-family="Liberation Serif" font-size="13.4" fill="#1e1e1e" stroke="#1e1e1e" stroke-width="0.15" textLength="36.4" lengthAdjust="spacingAndGlyphs">Drilled</text>
<path d="M394.4,405.1 L593.4,405.1 L593.4,498.6 L394.4,498.6 Z" stroke="#7a7a7a" stroke-width="1" fill="none"/>
<line x1="230" y1="377.5" x2="783.3" y2="377.5" stroke="#707070" stroke-width="1" fill="none"/>
<path d="M230,377 L235.44,375.7 L236.8,375.7 L236.8,378.3 L235.44,378.3 Z" fill="#111"/>
<path d="M783.3,377 L777.86,378.3 L776.5,378.3 L776.5,375.7 L777.86,375.7 Z" fill="#111"/>
<line x1="230.5" y1="374.8" x2="230.5" y2="384.7" stroke="#707070" stroke-width="1" fill="none"/>
<line x1="783.5" y1="374.6" x2="783.5" y2="384.7" stroke="#707070" stroke-width="1" fill="none"/>
<line x1="250" y1="393.5" x2="737.5" y2="393.5" stroke="#707070" stroke-width="1" fill="none"/>
<path d="M250,393.1 L255.44,391.8 L256.8,391.8 L256.8,394.4 L255.44,394.4 Z" fill="#111"/>
<path d="M737.5,393.1 L732.06,394.4 L730.7,394.4 L730.7,391.8 L732.06,391.8 Z" fill="#111"/>
<line x1="250.5" y1="393.1" x2="250.5" y2="423.9" stroke="#707070" stroke-width="1" fill="none"/>
<line x1="737.5" y1="393.1" x2="737.5" y2="423.9" stroke="#707070" stroke-width="1" fill="none"/>
<text transform="translate(490,375.6) scale(0.546,1.08)" text-anchor="middle" font-family="Liberation Serif" font-size="12.6" fill="#1e1e1e" stroke="#1e1e1e" stroke-width="0.15">M</text>
<text transform="translate(496.8,375.6) scale(0.673,1.08)" text-anchor="middle" font-family="Liberation Serif" font-size="12.6" fill="#1e1e1e" stroke="#1e1e1e" stroke-width="0.15">A</text>
<text transform="translate(503.6,375.6) scale(0.673,1.08)" text-anchor="middle" font-family="Liberation Serif" font-size="12.6" fill="#1e1e1e" stroke="#1e1e1e" stroke-width="0.15">X</text>
<text transform="translate(0,375.6) scale(1,1.08)" x="510.4 517.2 524" y="0" text-anchor="middle" font-family="Liberation Serif" font-size="12.6" fill="#1e1e1e" stroke="#1e1e1e" stroke-width="0.15">370</text>
<text transform="translate(477,391.6) scale(0.546,1.08)" text-anchor="middle" font-family="Liberation Serif" font-size="12.6" fill="#1e1e1e" stroke="#1e1e1e" stroke-width="0.15">M</text>
<text transform="translate(490.6,391.6) scale(0.673,1.08)" text-anchor="middle" font-family="Liberation Serif" font-size="12.6" fill="#1e1e1e" stroke="#1e1e1e" stroke-width="0.15">N</text>
<text transform="translate(0,391.6) scale(1,1.08)" x="483.8 497.4 504.2 511" y="0" text-anchor="middle" font-family="Liberation Serif" font-size="12.6" fill="#1e1e1e" stroke="#1e1e1e" stroke-width="0.15">I330</text>
<line x1="593.4" y1="405.5" x2="773" y2="405.5" stroke="#707070" stroke-width="1" fill="none"/>
<line x1="593.4" y1="498.5" x2="773" y2="498.5" stroke="#707070" stroke-width="1" fill="none"/>
<line x1="738" y1="445.5" x2="757" y2="445.5" stroke="#707070" stroke-width="1" fill="none"/>
<line x1="756.5" y1="405.1" x2="756.5" y2="445.8" stroke="#707070" stroke-width="1" fill="none"/>
<path d="M756.4,405.1 L757.7,410.54 L757.7,411.9 L755.1,411.9 L755.1,410.54 Z" fill="#111"/>
<path d="M756.4,445.8 L755.1,440.36 L755.1,439 L757.7,439 L757.7,440.36 Z" fill="#111"/>
<line x1="771.5" y1="405.1" x2="771.5" y2="498.6" stroke="#707070" stroke-width="1" fill="none"/>
<path d="M771.3,405.1 L772.6,410.54 L772.6,411.9 L770,411.9 L770,410.54 Z" fill="#111"/>
<path d="M771.3,498.6 L770,493.16 L770,491.8 L772.6,491.8 L772.6,493.16 Z" fill="#111"/>
<text x="880.5" y="488.1" font-family="Liberation Serif" font-size="16.2" fill="#111" stroke="#111" stroke-width="0.25" textLength="107" lengthAdjust="spacingAndGlyphs">Dimension:m/m</text>
<text x="880.8" y="505.6" font-family="Liberation Serif" font-size="16.2" fill="#111" stroke="#111" stroke-width="0.25" textLength="100.4" lengthAdjust="spacingAndGlyphs">Weight: 5.6kgs</text>
</svg>
</body></html>
